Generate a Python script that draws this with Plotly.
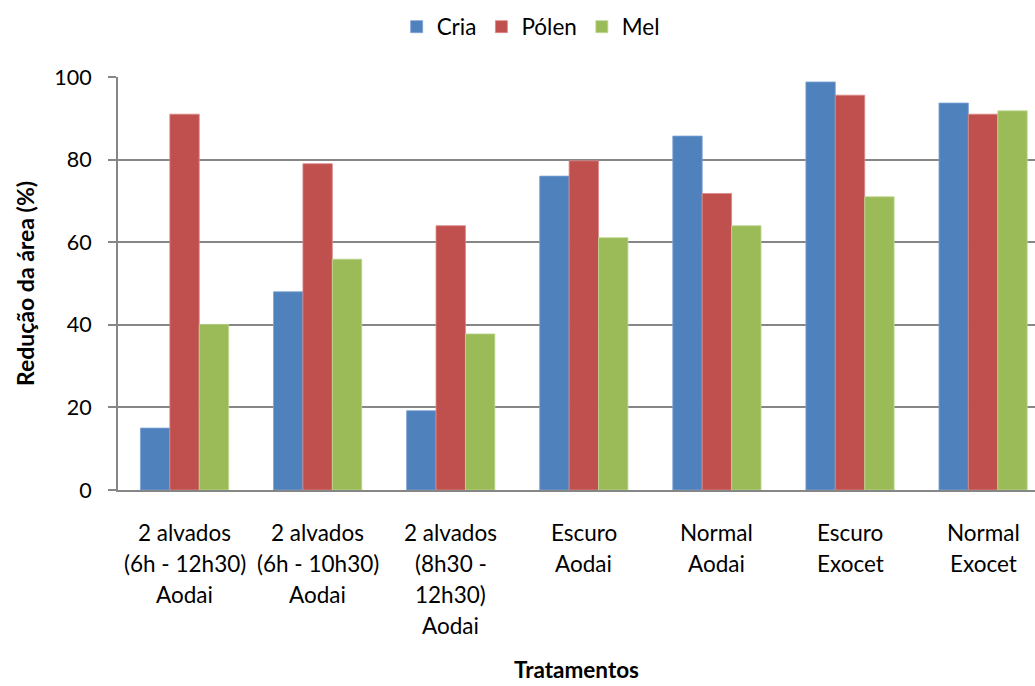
import plotly.graph_objects as go

# Treatment groups (line breaks as printed under each group)
categories = [
    "2 alvados<br>(6h - 12h30)<br>Aodai",
    "2 alvados<br>(6h - 10h30)<br>Aodai",
    "2 alvados<br>(8h30 -<br>12h30)<br>Aodai",
    "Escuro<br>Aodai",
    "Normal<br>Aodai",
    "Escuro<br>Exocet",
    "Normal<br>Exocet",
]

# Area reduction (%) per comb content type
cria = [15, 48, 19.2, 76, 85.7, 98.8, 93.7]
polen = [91, 79, 64, 79.7, 71.8, 95.6, 91]
mel = [40.1, 55.9, 37.8, 61.1, 64, 71, 91.8]

y_ticks = [0, 20, 40, 60, 80, 100]

FONT = "Lato"
GRID = "#868686"

series = [
    ("Cria", cria, "#4F81BD", "#7EA3D3"),
    ("Pólen", polen, "#C0504D", "#D98A88"),
    ("Mel", mel, "#9BBB59", "#C0D892"),
]

x_idx = list(range(len(categories)))

fig = go.Figure()
for name, vals, color, edge in series:
    fig.add_trace(go.Bar(
        name=name, x=x_idx, y=vals,
        marker=dict(color=color, line=dict(color=edge, width=0.8)),
    ))

# Multi-line category labels under each group
line_gap = 31
for i, lab in enumerate(categories):
    for j, part in enumerate(lab.split("<br>")):
        fig.add_annotation(
            x=i, y=0, xref="x", yref="y", text=part, showarrow=False,
            yshift=-(42 + line_gap * j), yanchor="middle", xanchor="center",
            font=dict(family=FONT, size=22.5, color="#000000"),
        )

fig.update_layout(
    width=1035, height=686,
    margin=dict(l=118, r=0, t=77, b=196),
    plot_bgcolor="white", paper_bgcolor="white",
    barmode="group", bargap=0.337, bargroupgap=0,
    font=dict(family=FONT, size=21, color="#000000"),
    legend=dict(
        orientation="h", x=0.45, xanchor="center", y=1.121, yanchor="middle",
        font=dict(family=FONT, size=22.5), itemwidth=30, tracegroupgap=0,
    ),
    xaxis=dict(
        range=[-0.5, 6.39], showticklabels=False, showgrid=False,
        showline=True, linecolor=GRID, linewidth=2, ticks="", zeroline=False,
        title=dict(text="<b>Tratamentos</b>", standoff=171,
                   font=dict(family=FONT, size=22.5)),
    ),
    yaxis=dict(
        range=[0, 100], tickvals=y_ticks, ticks="outside", ticklen=8,
        tickcolor=GRID, tickwidth=2, showline=True, linecolor=GRID, linewidth=2,
        showgrid=True, gridcolor=GRID, gridwidth=2, zeroline=False,
        tickfont=dict(family=FONT, size=21.5), ticklabelstandoff=12,
        title=dict(text="<b>Redução da área (%)</b>", standoff=13,
                   font=dict(family=FONT, size=23)),
    ),
)

fig.write_html("out.html")
